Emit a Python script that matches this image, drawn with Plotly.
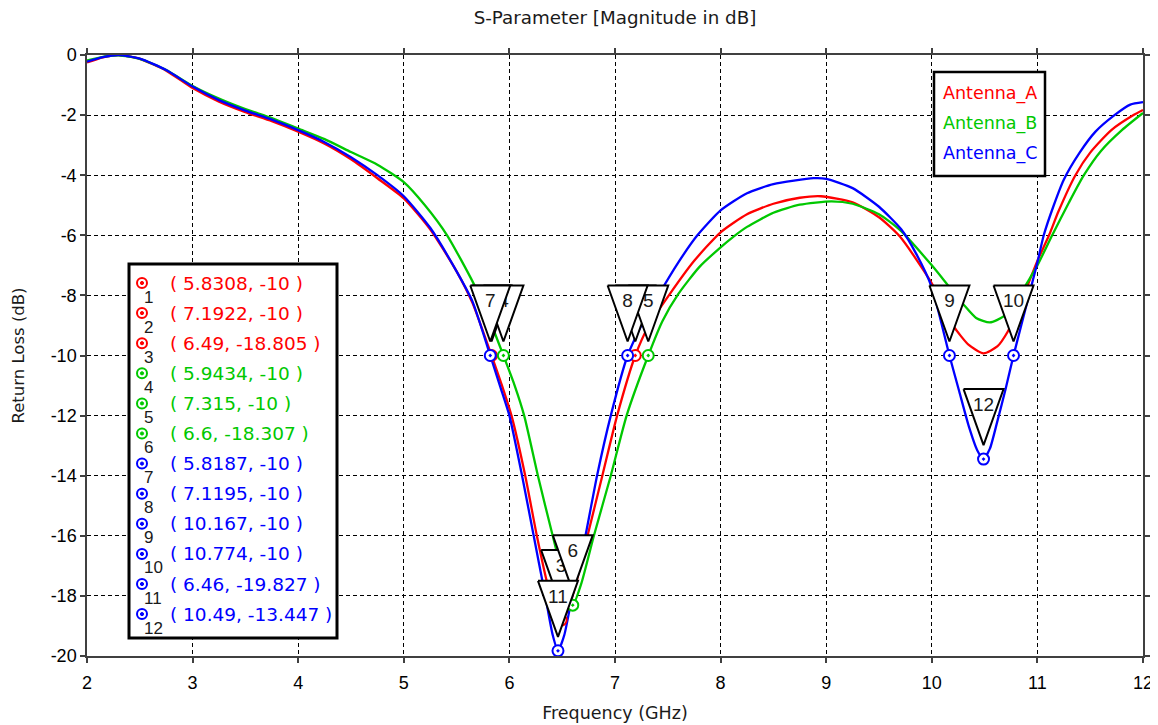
import plotly.graph_objects as go

# ---------------- data ----------------
freq_a = [2.0, 2.15, 2.3, 2.5, 2.75, 3.0, 3.25, 3.5, 3.75, 4.0, 4.25, 4.5, 4.75, 5.0, 5.25, 5.5, 5.65,
          5.8308, 5.93, 6.02, 6.15, 6.26, 6.36, 6.44, 6.49, 6.55, 6.63, 6.74, 6.88, 7.02, 7.1922,
          7.32, 7.52, 7.75, 8.0, 8.25, 8.5, 8.75, 8.95, 9.25, 9.5, 9.7, 10.0, 10.1, 10.21, 10.35,
          10.49, 10.62, 10.72, 10.8, 10.87, 11.0, 11.11, 11.2, 11.36, 11.5, 11.7, 11.91, 12.0]
rl_a = [-0.25, -0.08, 0.0, -0.13, -0.52, -1.1, -1.55, -1.9, -2.2, -2.55, -2.95, -3.47, -4.1, -4.77, -5.8, -7.2, -8.25,
        -10.0, -11.0, -12.0, -14.0, -16.0, -17.6, -18.5, -18.805, -18.5, -17.6, -16.0, -14.0, -12.0, -10.0,
        -9.0, -7.95, -6.85, -5.9, -5.3, -4.95, -4.75, -4.7, -4.9, -5.4, -6.05, -7.6, -8.35, -9.05, -9.65,
        -9.93, -9.7, -9.2, -8.6, -8.0, -6.85, -6.0, -5.2, -4.0, -3.25, -2.5, -2.0, -1.83]

freq_b = [2.0, 2.15, 2.3, 2.5, 2.75, 3.0, 3.25, 3.5, 3.75, 4.0, 4.25, 4.5, 4.75, 5.0, 5.2, 5.41, 5.66, 5.8,
          5.9434, 6.05, 6.14, 6.27, 6.41, 6.52, 6.6, 6.68, 6.8, 6.96, 7.11, 7.315, 7.45, 7.6, 7.8,
          8.0, 8.12, 8.25, 8.5, 8.75, 9.05, 9.25, 9.5, 9.7, 10.0, 10.15, 10.3, 10.42, 10.55, 10.68,
          10.8, 10.9, 11.0, 11.14, 11.3, 11.44, 11.6, 11.8, 12.0]
rl_b = [-0.18, -0.06, -0.01, -0.13, -0.5, -1.03, -1.45, -1.8, -2.1, -2.45, -2.8, -3.23, -3.65, -4.23, -5.0, -6.0, -7.6, -8.7,
        -10.0, -11.0, -12.0, -14.0, -16.0, -17.5, -18.307, -17.6, -16.0, -14.0, -12.0, -10.0, -8.85, -7.95, -7.05,
        -6.4, -6.05, -5.72, -5.25, -4.98, -4.87, -4.95, -5.3, -5.83, -7.0, -7.65, -8.3, -8.75, -8.9, -8.7,
        -8.2, -7.6, -7.0, -6.0, -4.9, -4.0, -3.2, -2.5, -1.93]

freq_c = [2.0, 2.15, 2.3, 2.5, 2.75, 3.0, 3.25, 3.5, 3.75, 4.0, 4.25, 4.5, 4.75, 5.0, 5.25, 5.5, 5.65,
          5.8187, 5.91, 6.0, 6.12, 6.23, 6.34, 6.41, 6.46, 6.52, 6.6, 6.72, 6.83, 6.96, 7.1195,
          7.25, 7.41, 7.6, 7.78, 8.0, 8.25, 8.5, 8.88, 9.0, 9.25, 9.5, 9.71, 9.85, 10.0,
          10.167, 10.26, 10.35, 10.43, 10.49, 10.55, 10.62, 10.7, 10.774, 10.92, 11.0, 11.06,
          11.15, 11.25, 11.4, 11.55, 11.73, 11.88, 12.0]
rl_c = [-0.22, -0.07, 0.0, -0.12, -0.5, -1.05, -1.5, -1.85, -2.15, -2.5, -2.9, -3.4, -4.0, -4.7, -5.75, -7.2, -8.2,
        -10.0, -11.0, -12.0, -14.0, -16.0, -18.0, -19.3, -19.827, -19.3, -17.9, -16.0, -14.0, -12.0, -10.0,
        -9.0, -8.0, -6.9, -6.0, -5.17, -4.6, -4.3, -4.1, -4.12, -4.43, -5.05, -5.8, -6.6, -7.73,
        -10.0, -11.2, -12.35, -13.15, -13.447, -13.1, -12.2, -11.1, -10.0, -8.0, -6.9, -6.0,
        -5.05, -4.15, -3.25, -2.55, -2.0, -1.65, -1.57]

series_names = ["Antenna_A", "Antenna_B", "Antenna_C"]
series_colors = ["#ff0000", "#00c800", "#0000ff"]

mk_freq = [5.8308, 7.1922, 6.49, 5.9434, 7.315, 6.6, 5.8187, 7.1195, 10.167, 10.774, 6.46, 10.49]
mk_val = [-10, -10, -18.805, -10, -10, -18.307, -10, -10, -10, -10, -19.827, -13.447]
mk_series = [0, 0, 0, 1, 1, 1, 2, 2, 2, 2, 2, 2]

x_ticks = [2, 3, 4, 5, 6, 7, 8, 9, 10, 11, 12]
y_ticks = [0, -2, -4, -6, -8, -10, -12, -14, -16, -18, -20]

# ---------------- geometry ----------------
# the page body adds an 8px margin, so the figure is drawn 8px smaller and offset
OFF = 8
W, H = 1158 - OFF, 725 - OFF
PL, PR, PT, PB = 87 - OFF, 15, 55 - OFF, 69
PW, PH = W - PL - PR, H - PT - PB
XR = [2, 12]
YR = [-20, 0]
PXG = PW / (XR[1] - XR[0])
PXD = PH / (YR[1] - YR[0])


def paper_x(px):
    # px given in screen (reference) pixels
    return (px - OFF - PL) / PW


def paper_y(py):
    return (PT + PH - (py - OFF)) / PH


TXT = "DejaVu Sans"
NUM = "Liberation Sans"

fig = go.Figure()

for f, r, c, n in zip([freq_a, freq_b, freq_c], [rl_a, rl_b, rl_c], series_colors, series_names):
    fig.add_trace(go.Scatter(x=f, y=r, mode="lines", name=n,
                             line=dict(color=c, width=2.3, shape="spline", smoothing=0.6),
                             showlegend=False, hoverinfo="skip"))

fig.add_trace(go.Scatter(
    x=mk_freq, y=mk_val, mode="markers", showlegend=False, hoverinfo="skip", cliponaxis=False,
    marker=dict(symbol="circle-dot", size=11, color="white",
                line=dict(color=[series_colors[s] for s in mk_series], width=2))))

# marker flags (drawn in order so later flags cover earlier ones)
HALF_W, TOP, TIP, TXTOFF = 20, 70, 14, 53
for i, (f, v) in enumerate(zip(mk_freq, mk_val)):
    xl, xr = f - HALF_W / PXG, f + HALF_W / PXG
    yt, yb = v + TOP / PXD, v + TIP / PXD
    fig.add_trace(go.Scatter(x=[xl, xr, f, xl], y=[yt, yt, yb, yt], mode="lines", fill="toself",
                             fillcolor="white", line=dict(color="black", width=2),
                             showlegend=False, hoverinfo="skip"))
    fig.add_trace(go.Scatter(x=[f], y=[v + TXTOFF / PXD], mode="text", text=[str(i + 1)],
                             textfont=dict(family=NUM, size=19, color="#1a1a1a"),
                             showlegend=False, hoverinfo="skip"))

shapes = []
annotations = []

# series legend (top right)
shapes.append(dict(type="rect", xref="paper", yref="paper", layer="above",
                   x0=paper_x(934), x1=paper_x(1045), y0=paper_y(176), y1=paper_y(72),
                   line=dict(color="black", width=2.5), fillcolor="white"))
for k, (n, c) in enumerate(zip(series_names, series_colors)):
    annotations.append(dict(xref="paper", yref="paper", x=paper_x(941), y=paper_y(93 + 30 * k),
                            xanchor="left", yanchor="middle", showarrow=False, text=n,
                            font=dict(family=TXT, size=17.5, color=c)))

# marker table (left)
shapes.append(dict(type="rect", xref="paper", yref="paper", layer="above",
                   x0=paper_x(129), x1=paper_x(337), y0=paper_y(638), y1=paper_y(264),
                   line=dict(color="black", width=3), fillcolor="white"))
for i, (f, v, s) in enumerate(zip(mk_freq, mk_val, mk_series)):
    cy = 283 + 30.1 * i
    col = series_colors[s]
    shapes.append(dict(type="circle", xref="paper", yref="paper", layer="above",
                       xsizemode="pixel", ysizemode="pixel",
                       xanchor=paper_x(142), yanchor=paper_y(cy),
                       x0=-5, x1=5, y0=-5, y1=5, line=dict(color=col, width=2), fillcolor="white"))
    shapes.append(dict(type="circle", xref="paper", yref="paper", layer="above",
                       xsizemode="pixel", ysizemode="pixel",
                       xanchor=paper_x(142), yanchor=paper_y(cy),
                       x0=-1.6, x1=1.6, y0=-1.6, y1=1.6, line=dict(color=col, width=1), fillcolor=col))
    annotations.append(dict(xref="paper", yref="paper", x=paper_x(142), y=paper_y(cy + 14),
                            xanchor="left", yanchor="middle", showarrow=False, text=str(i + 1),
                            font=dict(family=NUM, size=17, color="#1a1a1a")))
    annotations.append(dict(xref="paper", yref="paper", x=paper_x(168), y=paper_y(cy),
                            xanchor="left", yanchor="middle", showarrow=False,
                            text=f"( {f:g}, {v:g} )",
                            font=dict(family=TXT, size=18.5, color=col)))

axis_common = dict(showline=True, linecolor="#404040", linewidth=1.5, mirror="ticks",
                   ticks="outside", ticklen=5, tickwidth=1.5, tickcolor="#404040",
                   showgrid=True, gridcolor="black", griddash="4px,3px", gridwidth=1,
                   zeroline=False, automargin=False,
                   tickfont=dict(family=NUM, size=18, color="black"))

fig.update_layout(
    width=W, height=H, margin=dict(l=PL, r=PR, t=PT, b=PB, autoexpand=False),
    paper_bgcolor="white", plot_bgcolor="white",
    title=dict(text="S-Parameter [Magnitude in dB]", xref="paper", x=paper_x(615), xanchor="center",
               yref="container", y=1 - (18 - OFF) / H, yanchor="middle",
               font=dict(family=TXT, size=18.3, color="#1a1a1a")),
    xaxis=dict(range=XR, tickvals=x_ticks, ticktext=[str(t) for t in x_ticks], ticklabelstandoff=5,
               title=dict(text="Frequency (GHz)", font=dict(family=TXT, size=17.5, color="#1a1a1a"),
                          standoff=14), **axis_common),
    yaxis=dict(range=YR, tickvals=y_ticks, ticktext=[str(t) for t in y_ticks],
               title=dict(text="Return Loss (dB)", font=dict(family=TXT, size=16.5, color="#1a1a1a"),
                          standoff=22), **axis_common),
    shapes=shapes, annotations=annotations, showlegend=False,
)

fig.write_html("out.html")
